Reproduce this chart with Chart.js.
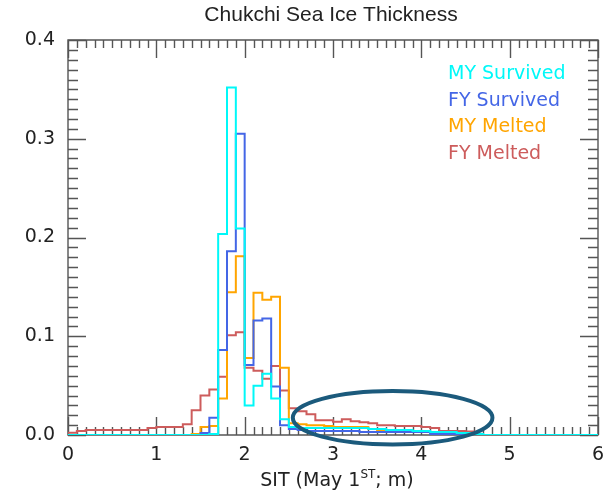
<!DOCTYPE html>
<html>
<head>
<meta charset="utf-8">
<script src="https://cdn.jsdelivr.net/npm/chart.js@4.4.1/dist/chart.umd.min.js"></script>
<style>
html,body{margin:0;padding:0;background:#fff;}
#wrap{width:606px;height:498px;position:relative;}
</style>
</head>
<body>
<div id="wrap"><canvas id="c" width="606" height="498"></canvas></div>
<script>
// Bin left edges (width 0.1), last entry is the right edge of the final bin
const binEdges = [0.0,0.1,0.2,0.3,0.4,0.5,0.6,0.7,0.8,0.9,
  1.0,1.1,1.2,1.3,1.4,1.5,1.6,1.7,1.8,1.9,
  2.0,2.1,2.2,2.3,2.4,2.5,2.6,2.7,2.8,2.9,
  3.0,3.1,3.2,3.3,3.4,3.5,3.6,3.7,3.8,3.9,
  4.0,4.1,4.2,4.3,4.4,4.5,4.6,4.7,4.8,4.9,
  5.0,5.1,5.2,5.3,5.4,5.5,5.6,5.7,5.8,5.9,6.0];

const seriesNames = ["MY Survived","FY Survived","MY Melted","FY Melted"];

const mySurvived = [0,0,0,0,0,0,0,0,0,0,
  0,0,0,0,0,0,0.001,0.2035,0.352,0.209,
  0.030,0.050,0.062,0.037,0.016,0.008,0.007,0.007,0.007,0.007,
  0.007,0.007,0.007,0.007,0.006,0.006,0.005,0.005,0.005,0.004,
  0.004,0.003,0.003,0.003,0.002,0.002,0.001,0,0,0,
  0,0,0,0,0,0,0,0,0,0];

const fySurvived = [0,0,0,0,0,0,0,0,0,0,
  0,0,0,0,0,0.002,0.0175,0.086,0.186,0.305,
  0.071,0.116,0.118,0.049,0.010,0.006,0.005,0.004,0.004,0.004,
  0.004,0.004,0.004,0.003,0.003,0.003,0.003,0.003,0.003,0.003,
  0.003,0.001,0.001,0.001,0.001,0,0,0,0,0,
  0,0,0,0,0,0,0,0,0,0];

const myMelted = [0,0,0,0,0,0,0,0,0,0,
  0,0,0,0,0.001,0.008,0.009,0.037,0.1445,0.181,
  0.078,0.144,0.137,0.140,0.068,0.012,0.011,0.010,0.010,0.009,
  0.008,0.008,0.008,0.008,0.006,0.005,0.005,0.004,0.004,0.003,
  0.003,0.002,0.002,0.001,0.001,0,0,0,0,0,
  0,0,0,0,0,0,0,0,0,0];

const fyMelted = [0.0024,0.004,0.005,0.005,0.005,0.005,0.005,0.005,0.005,0.007,
  0.008,0.008,0.008,0.011,0.025,0.040,0.046,0.059,0.101,0.104,
  0.068,0.065,0.057,0.070,0.045,0.027,0.024,0.021,0.015,0.015,
  0.0135,0.016,0.014,0.013,0.012,0.010,0.010,0.009,0.009,0.009,
  0.008,0.007,0.004,0.004,0.004,0.0035,0,0,0,0,
  0,0,0,0,0,0,0,0,0,0];

const xTicks = [0,1,2,3,4,5,6];
const yTicks = [0.0,0.1,0.2,0.3,0.4];

// Annotation ellipse, in data units
const ellipse = {cx: 3.675, cy: 0.0175, rx: 1.13, ry: 0.027};

const colors = ['#00f8f8','#4466e6','#ffa500','#cd5c5c'];

function toSteps(vals){
  const pts = vals.map((v,i)=>({x: binEdges[i], y: v}));
  pts.push({x: binEdges[vals.length], y: vals[vals.length-1]});
  return pts;
}

const allSeries = [mySurvived, fySurvived, myMelted, fyMelted];

const frameColor = '#555';
const FONT = '"DejaVu Sans", sans-serif';

const framePlugin = {
  id: 'frame',
  beforeDatasetsDraw(chart){
    const {ctx, chartArea: a, scales:{x, y}} = chart;
    ctx.save();
    ctx.strokeStyle = frameColor;
    ctx.lineWidth = 1.4;
    ctx.beginPath();
    ctx.rect(a.left, a.top, a.right - a.left, a.bottom - a.top);
    ctx.stroke();
    ctx.beginPath();
    for (let i = 0; i <= 60; i++){
      const v = i / 10;
      const px = Math.round(x.getPixelForValue(v)) + 0.5;
      const len = (i % 10 === 0) ? 18 : 8;
      ctx.moveTo(px, a.bottom); ctx.lineTo(px, a.bottom - len);
      ctx.moveTo(px, a.top); ctx.lineTo(px, a.top + len);
    }
    for (let i = 0; i <= 40; i++){
      const v = i / 100;
      const py = Math.round(y.getPixelForValue(v)) + 0.5;
      const len = (i % 10 === 0) ? 18 : 10;
      ctx.moveTo(a.left, py); ctx.lineTo(a.left + len, py);
      ctx.moveTo(a.right, py); ctx.lineTo(a.right - len, py);
    }
    ctx.stroke();
    ctx.restore();
  },
  afterDraw(chart){
    const {ctx, chartArea: a, scales:{x, y}} = chart;
    ctx.save();
    // Title
    ctx.fillStyle = '#222';
    ctx.font = '21px "Liberation Sans", Arial, sans-serif';
    ctx.textAlign = 'center';
    ctx.textBaseline = 'middle';
    ctx.fillText('Chukchi Sea Ice Thickness', (a.left + a.right) / 2 - 2, 15);

    // X axis title with superscript
    const main1 = 'SIT (May 1', sup = 'ST', main2 = '; m)';
    ctx.font = '19px ' + FONT;
    const w1 = ctx.measureText(main1).width;
    const w3 = ctx.measureText(main2).width;
    ctx.font = '12px ' + FONT;
    const w2 = ctx.measureText(sup).width;
    const total = w1 + w2 + w3;
    let sx = (a.left + a.right) / 2 + 4 - total / 2;
    const by = 486;
    ctx.textAlign = 'left';
    ctx.textBaseline = 'alphabetic';
    ctx.font = '19px ' + FONT;
    ctx.fillText(main1, sx, by);
    sx += w1;
    ctx.font = '12px ' + FONT;
    ctx.fillText(sup, sx, by - 8);
    sx += w2;
    ctx.font = '19px ' + FONT;
    ctx.fillText(main2, sx, by);

    // Legend
    ctx.font = '19px ' + FONT;
    ctx.textBaseline = 'middle';
    seriesNames.forEach((n, i) => {
      ctx.fillStyle = colors[i];
      ctx.fillText(n, 448, 74 + i * 26.6);
    });

    // Ellipse annotation
    const cx = x.getPixelForValue(ellipse.cx);
    const cy = y.getPixelForValue(ellipse.cy);
    const rx = x.getPixelForValue(ellipse.cx + ellipse.rx) - cx;
    const ry = cy - y.getPixelForValue(ellipse.cy + ellipse.ry);
    ctx.strokeStyle = '#1b5a7c';
    ctx.lineWidth = 4;
    ctx.beginPath();
    ctx.ellipse(cx, cy, rx, ry, 0, 0, Math.PI * 2);
    ctx.stroke();
    ctx.restore();
  }
};

new Chart(document.getElementById('c'), {
  type: 'line',
  data: {
    datasets: allSeries.map((s, i) => ({
      label: seriesNames[i],
      data: toSteps(s),
      borderColor: colors[i],
      borderWidth: 2,
      pointRadius: 0,
      fill: false,
      stepped: true,
      tension: 0
    }))
  },
  options: {
    responsive: false,
    animation: false,
    devicePixelRatio: 1,
    layout: {padding: {left: 0, right: 8, top: 40, bottom: 0}},
    plugins: {legend: {display: false}, title: {display: false}, tooltip: {enabled: false}},
    scales: {
      x: {
        type: 'linear', min: 0, max: 6,
        afterFit(s){ s.height = 63; s.paddingLeft = 0; s.paddingRight = 0; },
        afterBuildTicks(s){ s.ticks = xTicks.map(v => ({value: v})); },
        grid: {display: false, drawTicks: false},
        border: {display: false},
        ticks: {font: {family: 'DejaVu Sans', size: 19}, color: '#222', padding: 9, maxRotation: 0,
          callback: v => String(v)}
      },
      y: {
        type: 'linear', min: 0, max: 0.4,
        afterFit(s){ s.width = 68; s.paddingTop = 0; s.paddingBottom = 0; },
        afterBuildTicks(s){ s.ticks = yTicks.map(v => ({value: v})); },
        grid: {display: false, drawTicks: false},
        border: {display: false},
        ticks: {font: {family: 'DejaVu Sans', size: 19}, color: '#222', padding: 13,
          callback: v => Number(v).toFixed(1)}
      }
    }
  },
  plugins: [framePlugin]
});
</script>
</body>
</html>
